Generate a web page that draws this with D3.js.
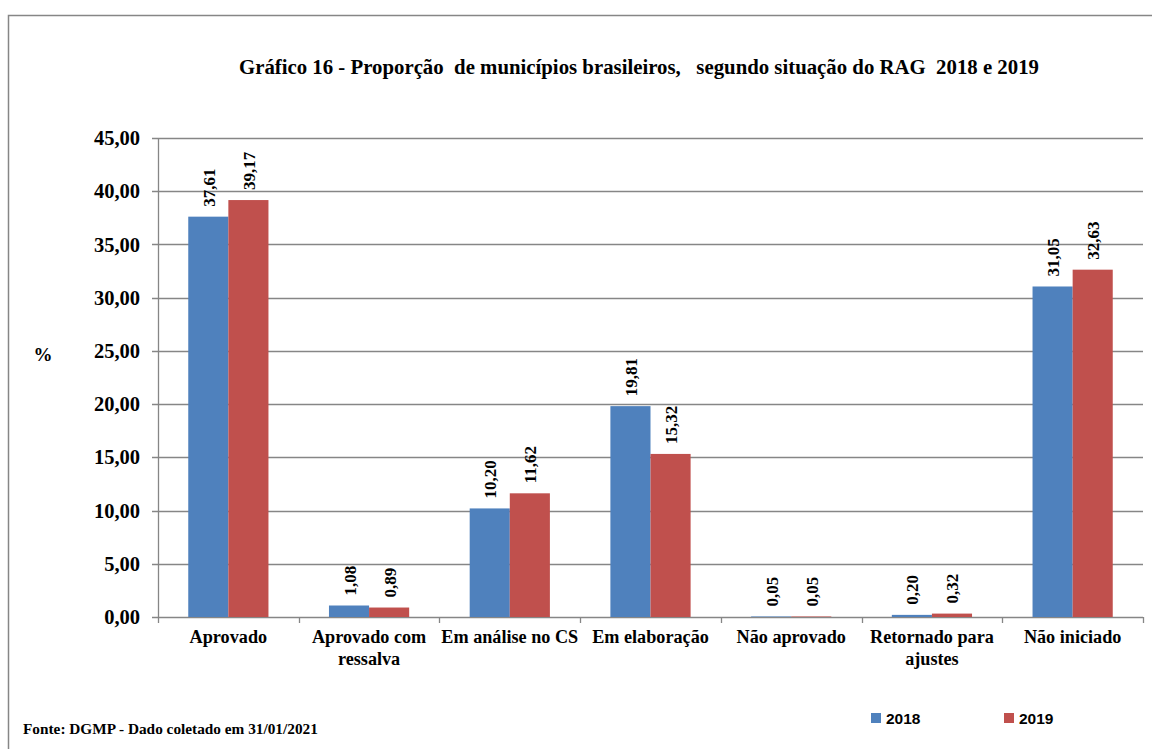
<!DOCTYPE html>
<html>
<head>
<meta charset="utf-8">
<script src="https://cdn.jsdelivr.net/npm/d3@7"></script>
<style>
  body { margin: 0; background: #fff; }
  svg { display: block; }
</style>
</head>
<body>
<div id="chart"></div>
<script>
//Datos del gráfico
const categorias = [
  ['Aprovado'],
  ['Aprovado com', 'ressalva'],
  ['Em análise no CS'],
  ['Em elaboração'],
  ['Não aprovado'],
  ['Retornado para', 'ajustes'],
  ['Não iniciado']
];
const series = ['2018', '2019'];
const valores2018 = [37.61, 1.08, 10.20, 19.81, 0.05, 0.20, 31.05];
const valores2019 = [39.17, 0.89, 11.62, 15.32, 0.05, 0.32, 32.63];
const yTicks = [0, 5, 10, 15, 20, 25, 30, 35, 40, 45];

const COLOR_2018 = '#4F81BD',
  COLOR_2019 = '#C0504D';
const colores = [COLOR_2018, COLOR_2019];

const W = 1152, H = 749;
let margin = {top: 138, right: 9, bottom: 132, left: 158},
  width = W - margin.left - margin.right,
  height = H - margin.top - margin.bottom;

let fmt = function(v) { return v.toFixed(2).replace('.', ','); };

let root = d3.select('#chart').append('svg')
  .attr('width', W)
  .attr('height', H);

//Marco
root.append('path')
  .attr('d', 'M8.5,760 V15.5 H1160')
  .attr('fill', 'none')
  .attr('stroke', '#868686')
  .attr('stroke-width', 1.5);

//Título
root.append('text')
  .attr('x', 639)
  .attr('y', 74)
  .attr('text-anchor', 'middle')
  .style('font-family', '"Liberation Serif", "Times New Roman", serif')
  .style('font-weight', 'bold')
  .style('font-size', '20.8px')
  .attr('xml:space', 'preserve')
  .text('Gráfico 16 - Proporção  de municípios brasileiros,   segundo situação do RAG  2018 e 2019');

let svg = root.append('g')
  .attr('transform', 'translate(' + margin.left + ',' + margin.top + ')');

let y = d3.scaleLinear()
  .domain([0, 45])
  .range([height, 0]);

let x0 = d3.scaleBand()
  .domain(d3.range(categorias.length))
  .range([0, width])
  .paddingInner(0)
  .paddingOuter(0);

let x1 = d3.scaleBand()
  .domain(series)
  .range([x0.bandwidth() * 0.215, x0.bandwidth() * 0.785]);

//Rejilla
svg.append('g')
  .selectAll('line')
  .data(yTicks)
  .enter()
  .append('line')
  .attr('x1', -6)
  .attr('x2', width)
  .attr('y1', function(d) { return Math.round(y(d)) + 0.5; })
  .attr('y2', function(d) { return Math.round(y(d)) + 0.5; })
  .attr('stroke', '#868686')
  .attr('stroke-width', 1.3);

//Eje Y
let yAxis = svg.append('g')
  .call(d3.axisLeft(y).tickValues(yTicks).tickFormat(fmt).tickSize(0).tickPadding(18));
yAxis.select('.domain').attr('stroke', '#868686').attr('stroke-width', 1.3);
yAxis.selectAll('text')
  .style('font-family', '"Liberation Serif", "Times New Roman", serif')
  .style('font-weight', 'bold')
  .style('font-size', '20.5px')
  .attr('fill', '#000');

root.append('text')
  .attr('x', 43)
  .attr('y', 361)
  .attr('text-anchor', 'middle')
  .style('font-family', '"Liberation Serif", "Times New Roman", serif')
  .style('font-weight', 'bold')
  .style('font-size', '19px')
  .text('%');

//Marcas del eje X
svg.append('g')
  .selectAll('line')
  .data(d3.range(categorias.length + 1))
  .enter()
  .append('line')
  .attr('x1', function(d) { return Math.round(d * x0.step()) + 0.5; })
  .attr('x2', function(d) { return Math.round(d * x0.step()) + 0.5; })
  .attr('y1', height)
  .attr('y2', height + 6)
  .attr('stroke', '#868686')
  .attr('stroke-width', 1.3);

//Barras
let grupos = svg.append('g')
  .selectAll('g')
  .data(categorias.map(function(c, i) {
    return {i: i, vals: [valores2018[i], valores2019[i]]};
  }))
  .enter()
  .append('g')
  .attr('transform', function(d) { return 'translate(' + x0(d.i) + ',0)'; });

grupos.selectAll('rect')
  .data(function(d) { return d.vals.map(function(v, j) { return {s: series[j], v: v, j: j}; }); })
  .enter()
  .append('rect')
  .attr('x', function(d) { return x1(d.s); })
  .attr('y', function(d) { return y(d.v); })
  .attr('width', x1.bandwidth())
  .attr('height', function(d) { return height - y(d.v); })
  .attr('fill', function(d) { return colores[d.j]; });

//Etiquetas de valor (rotadas)
grupos.selectAll('text')
  .data(function(d) { return d.vals.map(function(v, j) { return {s: series[j], v: v}; }); })
  .enter()
  .append('text')
  .attr('transform', function(d) {
    let cx = x1(d.s) + x1.bandwidth() / 2 + 6.5;
    let cy = y(d.v) - 10;
    return 'translate(' + cx + ',' + cy + ') rotate(-90)';
  })
  .attr('text-anchor', 'start')
  .style('font-family', '"Liberation Serif", "Times New Roman", serif')
  .style('font-weight', 'bold')
  .style('font-size', '17px')
  .text(function(d) { return fmt(d.v); });

//Etiquetas de categorías
let catText = svg.append('g')
  .selectAll('text')
  .data(categorias)
  .enter()
  .append('text')
  .attr('x', function(d, i) { return x0(i) + x0.bandwidth() / 2; })
  .attr('y', height + 26)
  .attr('text-anchor', 'middle')
  .style('font-family', '"Liberation Serif", "Times New Roman", serif')
  .style('font-weight', 'bold')
  .style('font-size', '18.2px');

catText.selectAll('tspan')
  .data(function(d) { return d; })
  .enter()
  .append('tspan')
  .attr('x', function() { return d3.select(this.parentNode).attr('x'); })
  .attr('dy', function(d, i) { return i === 0 ? 0 : 22; })
  .text(function(d) { return d; });

//Fuente
root.append('text')
  .attr('x', 23)
  .attr('y', 734)
  .style('font-family', '"Liberation Serif", "Times New Roman", serif')
  .style('font-weight', 'bold')
  .style('font-size', '15.3px')
  .text('Fonte: DGMP - Dado coletado em 31/01/2021');

//Leyenda
let legendX = [871, 1004];
let leg = root.append('g')
  .selectAll('g')
  .data(series)
  .enter()
  .append('g')
  .attr('transform', function(d, i) { return 'translate(' + legendX[i] + ',713)'; });

leg.append('rect')
  .attr('width', 10)
  .attr('height', 10)
  .attr('fill', function(d, i) { return colores[i]; });

leg.append('text')
  .attr('x', 15)
  .attr('y', 11)
  .style('font-family', '"Liberation Sans", Arial, sans-serif')
  .style('font-weight', 'bold')
  .style('font-size', '15.5px')
  .text(function(d) { return d; });
</script>
</body>
</html>
